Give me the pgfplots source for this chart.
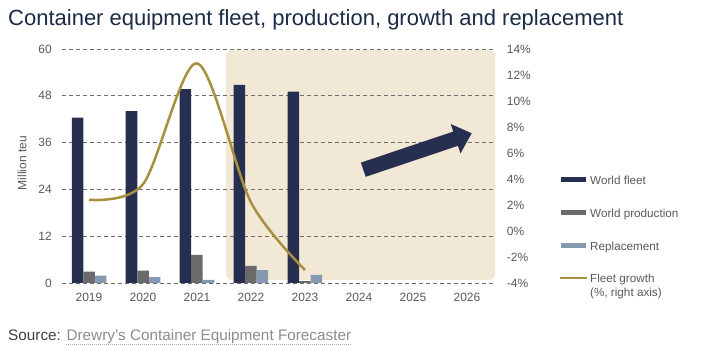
\documentclass[border=0pt]{standalone}
\usepackage{fontspec}
\setmainfont{Liberation Sans}
\usepackage{pgfplots}
\pgfplotsset{compat=1.18}
\definecolor{navy}{HTML}{262F50}
\definecolor{prodc}{HTML}{6A6A6A}
\definecolor{replc}{HTML}{8799B0}
\definecolor{goldc}{HTML}{A8903E}
\definecolor{beige}{HTML}{F2E8D6}
\definecolor{gridc}{HTML}{6E6E6E}
\definecolor{tickc}{HTML}{595959}
\definecolor{titlec}{HTML}{1B2B47}
\definecolor{srcdark}{HTML}{404040}
\definecolor{srclight}{HTML}{8C8C8C}
\begin{document}
\begin{tikzpicture}[x=1pt,y=1pt]
\fill[beige, rounded corners=6pt] (226,84) rectangle (495,314);
\begin{axis}[at={(62pt,81pt)}, anchor=south west, scale only axis,
  width=432pt, height=234pt,
  xmin=-0.5, xmax=7.5, ymin=0, ymax=60,
  axis line style={draw=none}, major tick length=0pt,
  ytick={0,12,24,36,48,60}, yticklabels={0,12,24,36,48,60},
  xtick={0,1,2,3,4,5,6,7},
  xticklabels={2019,2020,2021,2022,2023,2024,2025,2026},
  ymajorgrids,
  grid style={gridc, dash pattern=on 4pt off 3pt, line width=0.8pt},
  ticklabel style={font=\fontsize{12}{14}\selectfont, text=tickc, inner sep=0pt},
  yticklabel style={anchor=east, xshift=-10pt},
  xticklabel style={anchor=base, yshift=-18.7pt},
  bar width=11.5pt, clip=false]
\addplot[ybar, bar shift=-11.5pt, fill=navy, draw=none] coordinates {(0,42.4)(1,44.1)(2,49.7)(3,50.8)(4,49.1)};
\addplot[ybar, bar shift=0pt, fill=prodc, draw=none] coordinates {(0,2.9)(1,3.2)(2,7.2)(3,4.4)(4,0.5)};
\addplot[ybar, bar shift=11.5pt, fill=replc, draw=none] coordinates {(0,1.9)(1,1.5)(2,0.8)(3,3.3)(4,2.1)};
\end{axis}
\begin{axis}[at={(62pt,81pt)}, anchor=south west, scale only axis,
  width=432pt, height=234pt,
  xmin=-0.5, xmax=7.5, ymin=-4, ymax=14,
  axis line style={draw=none}, major tick length=0pt,
  xtick=\empty,
  ytick={-4,-2,0,2,4,6,8,10,12,14},
  yticklabels={-4\%,-2\%,0\%,2\%,4\%,6\%,8\%,10\%,12\%,14\%},
  yticklabel pos=right,
  ticklabel style={font=\fontsize{12}{14}\selectfont, text=tickc, inner sep=0pt},
  yticklabel style={anchor=west, xshift=12.7pt},
  clip=false]
\addplot[smooth, goldc, line width=2.5pt] coordinates {(0,2.4)(1,3.6)(2,12.9)(3,2.2)(4,-3.0)};
\end{axis}
% decorative arrow
\fill[navy] (360.9,201.4) -- (453.2,232.4) -- (450.7,240.0) -- (471.7,230.7) -- (460.5,210.6) -- (458.0,218.2) -- (365.7,187.2) -- cycle;
% y label
\node[rotate=90, inner sep=0, text=tickc, font=\fontsize{12}{14}\selectfont] at (22,200.7) {Million teu};
% legend
\fill[navy] (561,181.5) rectangle (586,186.5);
\node[anchor=base west, inner sep=0, text=tickc, font=\fontsize{11.7}{14}\selectfont] at (590,179.8) {World fleet};
\fill[prodc] (561,148.5) rectangle (586,153.5);
\node[anchor=base west, inner sep=0, text=tickc, font=\fontsize{11.7}{14}\selectfont] at (590,146.8) {World production};
\fill[replc] (561,115.5) rectangle (586,120.5);
\node[anchor=base west, inner sep=0, text=tickc, font=\fontsize{11.7}{14}\selectfont] at (590,113.8) {Replacement};
\draw[goldc, line width=2.5pt] (560,86) -- (587,86);
\node[anchor=base west, inner sep=0, text=tickc, font=\fontsize{11.7}{14}\selectfont] at (590,81.8) {Fleet growth};
\node[anchor=base west, inner sep=0, text=tickc, font=\fontsize{11.7}{14}\selectfont] at (590,67) {(\%, right axis)};
% title
\node[anchor=base west, inner sep=0, text=titlec, font=\fontsize{22}{26}\selectfont] at (8,338) {Container equipment fleet, production, growth and replacement};
% source
\node[anchor=base west, inner sep=0, font=\fontsize{15.3}{18}\selectfont] at (8,23.3) {\textcolor{srcdark}{Source:} \textcolor{srclight}{Drewry’s Container Equipment Forecaster}};
\draw[srclight!70, line width=0.6pt, dash pattern=on 1pt off 1pt] (66,20) -- (351,20);
\pgfresetboundingbox
\path (0,0) rectangle (702,364);
\end{tikzpicture}
\end{document}
